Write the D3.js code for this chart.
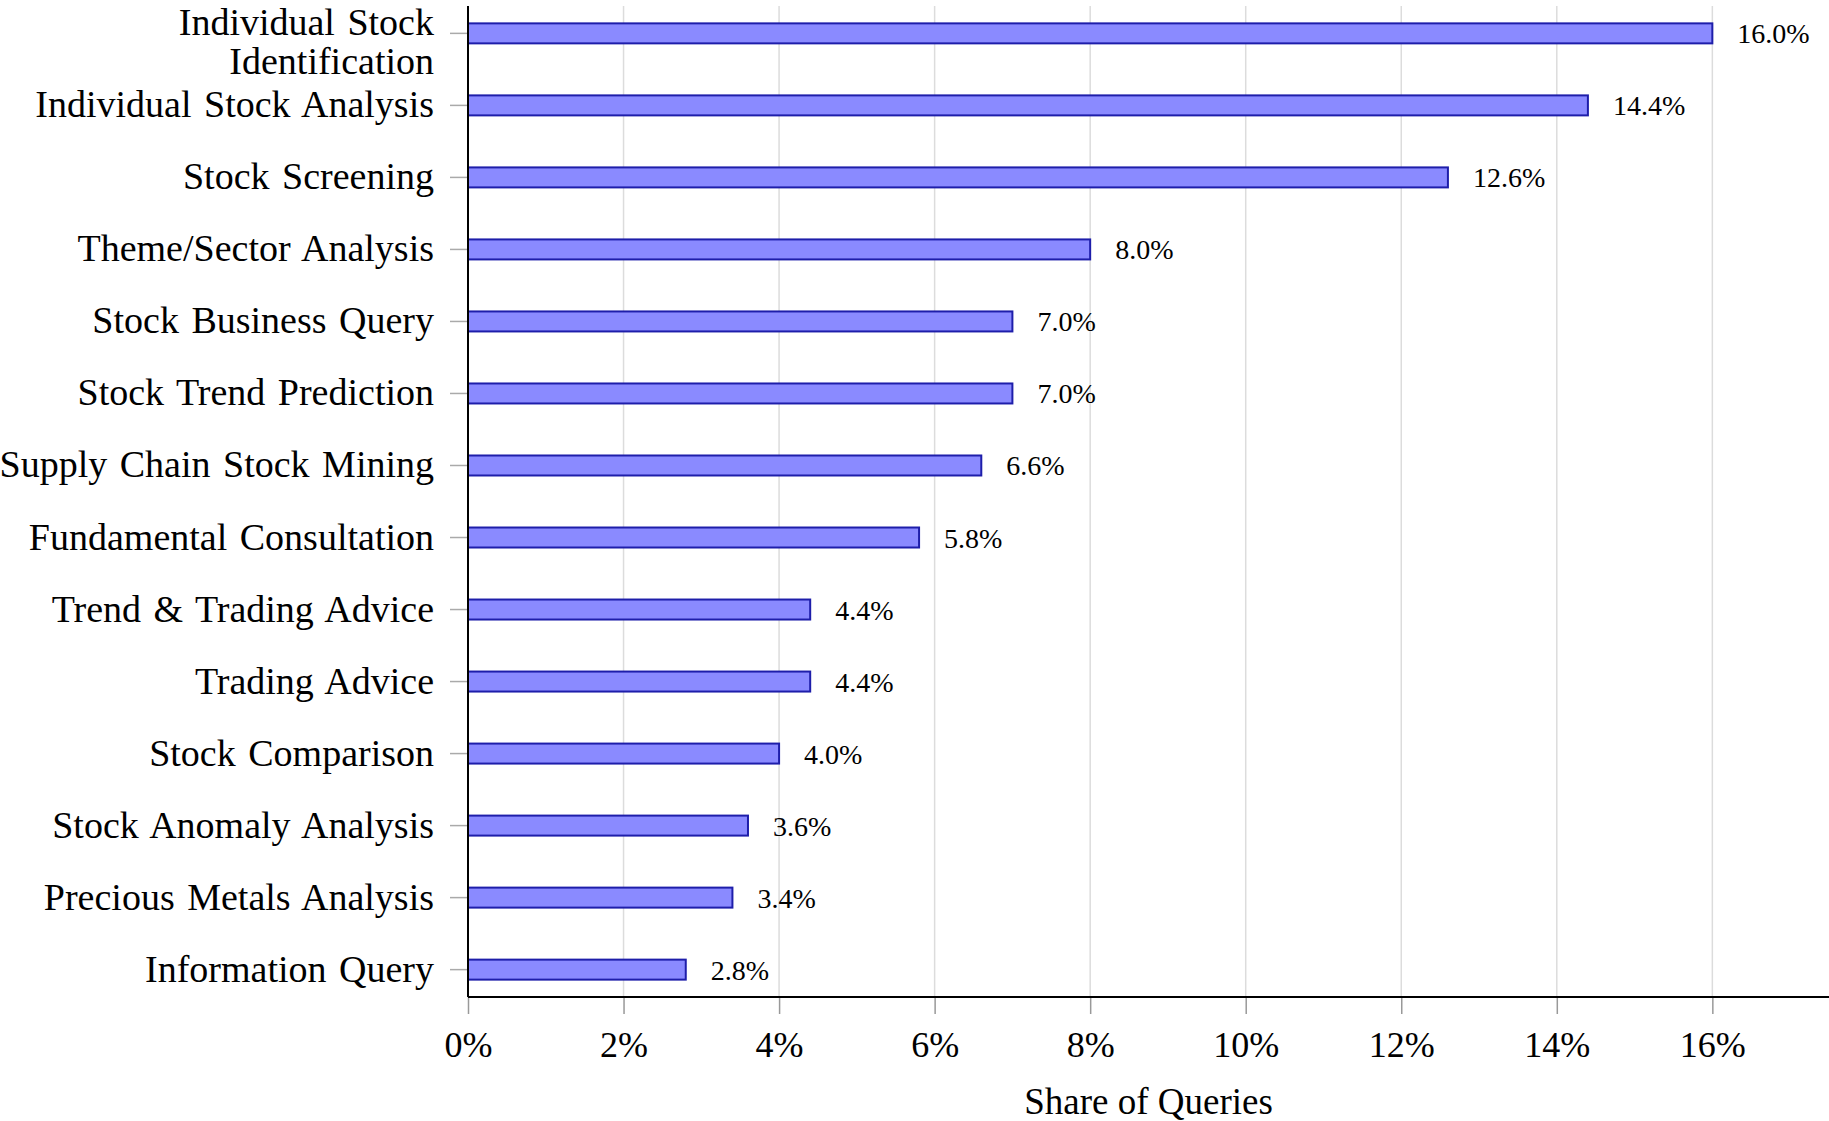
<!DOCTYPE html>
<html>
<head>
<meta charset="utf-8">
<script src="https://cdn.jsdelivr.net/npm/d3@7"></script>
<style>
  body { margin: 0; background: white; }
  svg { display: block; }
</style>
</head>
<body>
<svg id="chart"></svg>
<script>
'use strict';

// categories top to bottom, second line for the wrapped one
var categories = [
  "Individual Stock Identification",
  "Individual Stock Analysis",
  "Stock Screening",
  "Theme/Sector Analysis",
  "Stock Business Query",
  "Stock Trend Prediction",
  "Supply Chain Stock Mining",
  "Fundamental Consultation",
  "Trend & Trading Advice",
  "Trading Advice",
  "Stock Comparison",
  "Stock Anomaly Analysis",
  "Precious Metals Analysis",
  "Information Query"
];
var labelLines = [
  ["Individual Stock", "Identification"]
];
var shares = [16.0, 14.4, 12.6, 8.0, 7.0, 7.0, 6.6, 5.8, 4.4, 4.4, 4.0, 3.6, 3.4, 2.8];
var xTicks = [0, 2, 4, 6, 8, 10, 12, 14, 16];
var xTitle = "Share of Queries";

function drawChart(element) {
  var W = 1829, H = 1121;
  var margin = {top: 6, right: 0, bottom: 124, left: 468};
  var font = "'Liberation Serif', 'Times New Roman', serif";

  var svg = d3.select(element)
      .attr("width", W)
      .attr("height", H);

  var x = d3.scaleLinear()
      .domain([0, 17.5])
      .range([margin.left, W - margin.right]);

  var y = d3.scalePoint()
      .domain(categories)
      .range([margin.top, H - margin.bottom])
      .padding(0.38);

  var barH = 20;
  var axisY = H - margin.bottom;

  // vertical grid
  svg.append("g")
      .selectAll("line")
      .data(xTicks.filter(function(d) { return d > 0; }))
      .join("line")
      .attr("x1", function(d) { return x(d); })
      .attr("x2", function(d) { return x(d); })
      .attr("y1", margin.top)
      .attr("y2", axisY)
      .attr("stroke", "#dcdcdc")
      .attr("stroke-width", 1.5);

  // bottom axis ticks + labels
  var xAxis = svg.append("g")
      .attr("transform", "translate(0," + axisY + ")")
      .call(d3.axisBottom(x).tickValues(xTicks).tickSize(17)
            .tickFormat(function(d) { return d + "%"; }));
  xAxis.select(".domain").remove();
  xAxis.selectAll(".tick line")
      .attr("stroke", "#999")
      .attr("stroke-width", 1.5);
  xAxis.selectAll(".tick text")
      .attr("y", 60)
      .attr("dy", 0)
      .attr("font-family", font)
      .attr("font-size", "36px")
      .attr("fill", "#000");

  // left ticks
  svg.append("g")
      .selectAll("line")
      .data(categories)
      .join("line")
      .attr("x1", margin.left - 18)
      .attr("x2", margin.left)
      .attr("y1", function(d) { return y(d); })
      .attr("y2", function(d) { return y(d); })
      .attr("stroke", "#aaa")
      .attr("stroke-width", 1.5);

  // bars
  svg.append("g")
      .selectAll("rect")
      .data(shares)
      .join("rect")
      .attr("x", x(0))
      .attr("y", function(d, i) { return y(categories[i]) - barH / 2; })
      .attr("width", function(d) { return x(d) - x(0); })
      .attr("height", barH)
      .attr("fill", "#8a8aff")
      .attr("stroke", "#1e1eaa")
      .attr("stroke-width", 2);

  // value labels
  svg.append("g")
      .selectAll("text")
      .data(shares)
      .join("text")
      .attr("x", function(d) { return x(d) + 25; })
      .attr("y", function(d, i) { return y(categories[i]) + 10; })
      .text(function(d) { return d.toFixed(1) + "%"; })
      .attr("font-family", font)
      .attr("font-size", "28px")
      .attr("fill", "#000");

  // category labels
  var cat = svg.append("g")
      .selectAll("text")
      .data(categories)
      .join("text")
      .attr("x", margin.left - 34)
      .attr("y", function(d) { return y(d) + 12; })
      .attr("text-anchor", "end")
      .attr("font-family", font)
      .attr("font-size", "38px")
      .attr("word-spacing", "3px")
      .attr("fill", "#000");

  cat.each(function(d) {
    var t = d3.select(this);
    var lines = labelLines.find(function(l) { return l.join(" ") === d; });
    if (lines) {
      t.attr("y", 35);
      lines.forEach(function(s, k) {
        t.append("tspan")
            .attr("x", margin.left - 34)
            .attr("dy", k === 0 ? 0 : 39)
            .text(s);
      });
    } else {
      t.text(d);
    }
  });

  // axis lines
  svg.append("line")
      .attr("x1", margin.left)
      .attr("x2", margin.left)
      .attr("y1", margin.top)
      .attr("y2", axisY)
      .attr("stroke", "#000")
      .attr("stroke-width", 2);

  svg.append("line")
      .attr("x1", margin.left)
      .attr("x2", W)
      .attr("y1", axisY)
      .attr("y2", axisY)
      .attr("stroke", "#000")
      .attr("stroke-width", 2);

  // axis title
  svg.append("text")
      .attr("x", (margin.left + W) / 2)
      .attr("y", 1114)
      .attr("text-anchor", "middle")
      .text(xTitle)
      .attr("font-family", font)
      .attr("font-size", "37px")
      .attr("fill", "#000");
}

drawChart(document.getElementById("chart"));
</script>
</body>
</html>
